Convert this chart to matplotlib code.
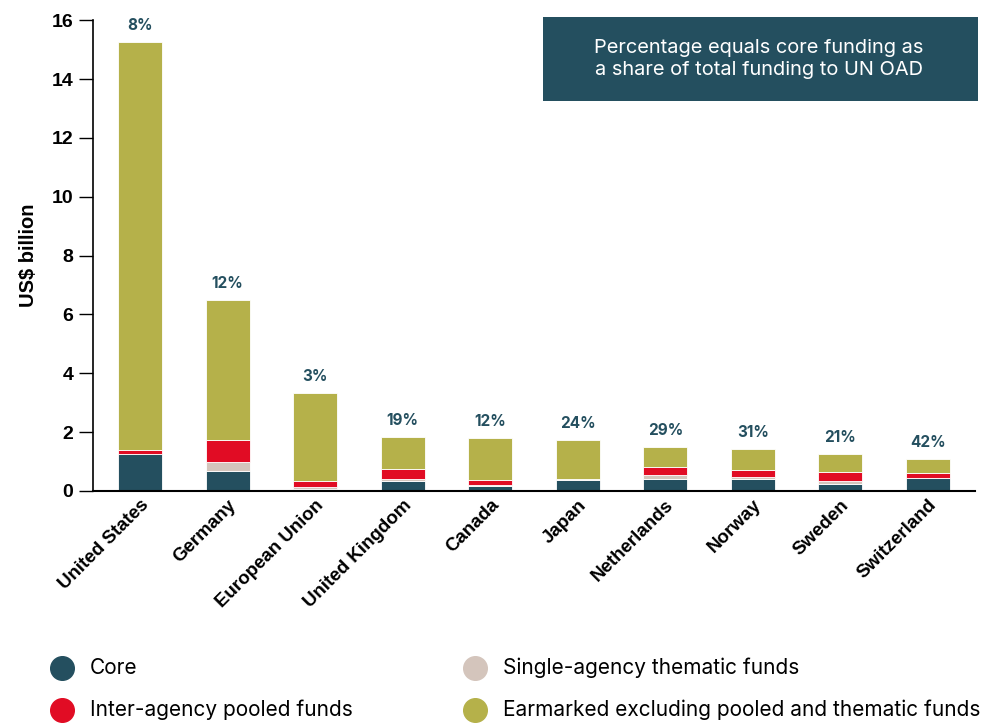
import numpy as np
import matplotlib.pyplot as plt
from matplotlib.lines import Line2D
from matplotlib.patches import Rectangle

plt.rcParams['font.family'] = ['Inter', 'DejaVu Sans']
AXIS_FONT = ['Liberation Sans', 'DejaVu Sans']

# funding to UN operational activities, US$ billion
donors = ["United States", "Germany", "European Union", "United Kingdom",
          "Canada", "Japan", "Netherlands", "Norway", "Sweden", "Switzerland"]
core = [1.24, 0.68, 0.08, 0.34, 0.18, 0.38, 0.41, 0.42, 0.23, 0.43]
single_agency = [0.03, 0.30, 0.07, 0.06, 0.03, 0.01, 0.12, 0.07, 0.10, 0.02]
inter_agency = [0.12, 0.76, 0.20, 0.33, 0.16, 0.03, 0.28, 0.21, 0.31, 0.17]
earmarked = [13.86, 4.75, 2.98, 1.10, 1.43, 1.30, 0.68, 0.72, 0.62, 0.46]
core_share = ["8%", "12%", "3%", "19%", "12%", "24%", "29%", "31%", "21%", "42%"]

C_CORE = "#244F5F"
C_SINGLE = "#D4C5BC"
C_INTER = "#E10C24"
C_EARM = "#B5B14A"

fig = plt.figure(figsize=(9.88, 7.23), dpi=100)
ax = fig.add_axes([0.094, 0.321, 0.893, 0.651])

x = np.arange(len(donors))
w = 0.5
bottom = np.zeros(len(donors))
for vals, col in [(core, C_CORE), (single_agency, C_SINGLE),
                  (inter_agency, C_INTER), (earmarked, C_EARM)]:
    ax.bar(x, vals, w, bottom=bottom, color=col, edgecolor="white",
           linewidth=0.6, zorder=2)
    bottom += np.array(vals)

for xi, tot, lab in zip(x, bottom, core_share):
    ax.text(xi, tot + 0.3, lab, ha="center", va="bottom", fontsize=11,
            fontweight="bold", color=C_CORE)

ax.set_xlim(-0.54, len(donors) - 0.46)
ax.set_ylim(0, 16)
ax.set_yticks(range(0, 17, 2))
ax.set_xticks(x)
ax.set_xticklabels(donors, rotation=45, ha="right", rotation_mode="anchor",
                   fontsize=13.5, fontweight="bold", family=AXIS_FONT)
ax.set_yticklabels([str(v) for v in range(0, 17, 2)], fontsize=14,
                   fontweight="bold", family=AXIS_FONT)
ax.tick_params(axis="x", length=0, pad=4)
ax.tick_params(axis="y", length=10, width=1, pad=4)
ax.set_ylabel("US$ billion", fontsize=14.5, fontweight="bold",
              family=AXIS_FONT, labelpad=10)
for s in ["top", "right"]:
    ax.spines[s].set_visible(False)
ax.spines["left"].set_linewidth(1.2)
ax.spines["bottom"].set_linewidth(1.5)

# note box
fig.add_artist(Rectangle((543 / 988, 1 - 101 / 723), 435 / 988, 84 / 723,
                         transform=fig.transFigure, facecolor=C_CORE,
                         edgecolor="none"))
fig.text(759 / 988, 1 - 59 / 723,
         "Percentage equals core funding as\na share of total funding to UN OAD",
         ha="center", va="center", fontsize=14.4, color="white", linespacing=1.25)

# legend, two columns
legend_items = [("Core", C_CORE, 62, 668),
                ("Inter-agency pooled funds", C_INTER, 62, 710),
                ("Single-agency thematic funds", C_SINGLE, 475, 668),
                ("Earmarked excluding pooled and thematic funds", C_EARM, 475, 710)]
for lab, col, px, py in legend_items:
    fig.add_artist(Line2D([px / 988], [1 - py / 723], transform=fig.transFigure,
                          marker="o", markersize=17, linestyle="none",
                          markerfacecolor=col, markeredgecolor=col))
    fig.text((px + 28) / 988, 1 - py / 723, lab, ha="left", va="center",
             fontsize=15)

fig.savefig("out.png", dpi=100)
